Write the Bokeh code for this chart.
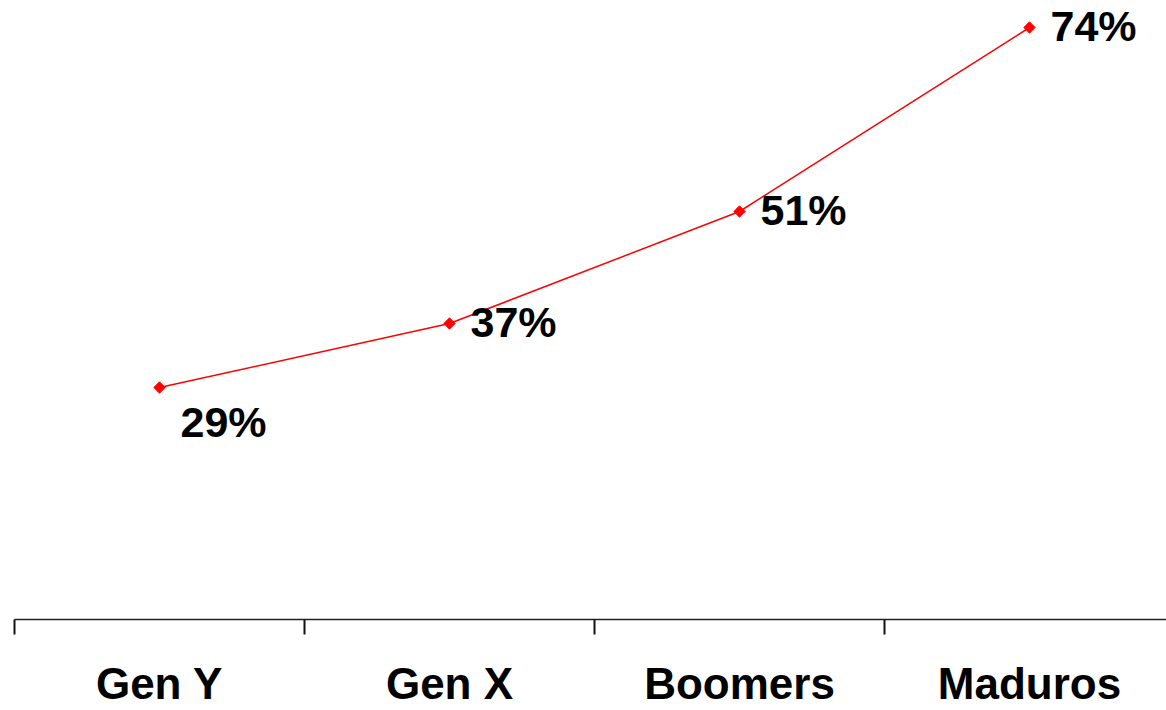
from bokeh.plotting import figure
from bokeh.models import Range1d, FixedTicker, ColumnDataSource
from bokeh.core.properties import value
from bokeh.embed import file_html
from bokeh.resources import INLINE
import math

# Share of each generation (percent)
categories = ["Gen Y", "Gen X", "Boomers", "Maduros"]
shares = [29, 37, 51, 74]
share_labels = ["29%", "37%", "51%", "74%"]

# label placement relative to each point (screen pixels)
label_dx = [21, 21, 21, 21]
label_dy = [34, -2, -2, -2]

xs = [i + 0.5 for i in range(len(categories))]
src = ColumnDataSource(dict(x=xs, y=shares, lab=share_labels, dx=label_dx, dy=label_dy))

FONT = "Liberation Sans"

p = figure(
    frame_width=1152, frame_height=619,
    x_range=Range1d(0, 1152 / 290), y_range=Range1d(0, 619 / 8),
    output_backend="svg", toolbar_location=None,
    y_axis_location=None, min_border_left=14, min_border_right=0,
    min_border_top=0, min_border_bottom=0,
)
p.outline_line_color = None
p.xgrid.visible = False
p.ygrid.visible = False
p.background_fill_color = "white"
p.border_fill_color = "white"

ax = p.xaxis[0]
ax.ticker = FixedTicker(ticks=xs, minor_ticks=list(range(len(categories))))
ax.major_label_overrides = {x: c for x, c in zip(xs, categories)}
ax.major_tick_line_color = None
ax.minor_tick_line_color = "#111111"
ax.minor_tick_line_width = 2
ax.minor_tick_in = 0
ax.minor_tick_out = 15
ax.axis_line_color = "#222222"
ax.axis_line_width = 1.5
ax.major_label_text_font = FONT
ax.major_label_text_font_style = "bold"
ax.major_label_text_font_size = "44px"
ax.major_label_text_color = "black"
ax.major_label_standoff = 24

p.line("x", "y", source=src, line_color="#ff0000", line_width=1.5)
p.scatter("x", "y", source=src, marker="square", angle=math.pi / 4, size=8,
          fill_color="#ff0000", line_color="#ff0000")
p.text("x", "y", text="lab", source=src, x_offset="dx", y_offset="dy",
       text_font=value(FONT), text_font_style="bold", text_font_size="43px",
       text_align="left", text_baseline="middle", text_color="black")

open("out.html", "w").write(file_html(p, INLINE))
